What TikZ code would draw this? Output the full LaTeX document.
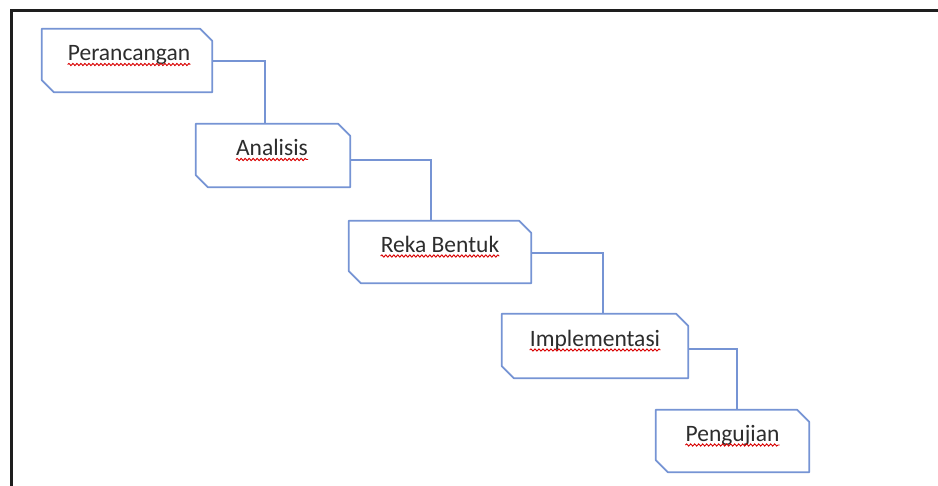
\documentclass[tikz,border=0pt]{standalone}
\usepackage{fontspec}
\setmainfont{Carlito}
\usetikzlibrary{decorations.pathmorphing}
\definecolor{boxblue}{RGB}{118,148,212}
\definecolor{txtgray}{RGB}{45,45,45}
\definecolor{frame}{RGB}{30,30,30}
\newlength\rekaw
\newlength\rekasw
\newcommand\chamfbox[1]{%
  \draw[boxline] (#1.north west) -- ([xshift=-12pt]#1.north east) -- ([yshift=-12pt]#1.north east)
    -- (#1.south east) -- ([xshift=12pt]#1.south west) -- ([yshift=12pt]#1.south west) -- cycle;}
\begin{document}
\begin{tikzpicture}[x=1pt,y=-1pt,
  boxline/.style={draw=boxblue,line width=1.8pt,line join=round},
  conn/.style={draw=boxblue,line width=1.8pt},
  boxarea/.style={rectangle,inner sep=0pt},
  label/.style={inner sep=0pt,anchor=base,text=txtgray,font=\fontsize{23.5}{28}\selectfont},
  wavy/.style={draw=red!85!black,line width=0.9pt,decorate,decoration={snake,amplitude=1.1pt,segment length=4pt}}]
\useasboundingbox (0,0) rectangle (938,486);
\fill[white] (0,0) rectangle (938,486);
% frame
\draw[frame,line width=3pt] (11,487) -- (11,10.5) -- (939,10.5);
% boxes
\node[boxarea,minimum width=170pt,minimum height=63pt] (b1) at (127,60.5) {};
\node[boxarea,minimum width=154pt,minimum height=63pt] (b2) at (273,155.5) {};
\node[boxarea,minimum width=182pt,minimum height=62pt] (b3) at (440,252) {};
\node[boxarea,minimum width=186pt,minimum height=64pt] (b4) at (595,346) {};
\node[boxarea,minimum width=153pt,minimum height=62pt] (b5) at (732.5,441) {};
\chamfbox{b1}\chamfbox{b2}\chamfbox{b3}\chamfbox{b4}\chamfbox{b5}
% labels
\node[label] (t1) at ([xshift=2pt,yshift=-0.5pt]b1.center) {Perancangan};
\node[label] (t2) at ([xshift=-1pt,yshift=-0.5pt]b2.center) {Analisis};
\node[label] (t3) at ([yshift=-0.5pt]b3.center) {Reka Bentuk};
\node[label] (t4) at ([yshift=-0.5pt]b4.center) {Implementasi};
\node[label] (t5) at ([yshift=-0.5pt]b5.center) {Pengujian};
% spell-check underlines
\settowidth{\rekaw}{\fontsize{23.5}{28}\selectfont Reka}
\settowidth{\rekasw}{\fontsize{23.5}{28}\selectfont Reka }
\draw[wavy] ([yshift=-3.5pt]t1.base west) -- ([yshift=-3.5pt]t1.base east);
\draw[wavy] ([yshift=-3.5pt]t2.base west) -- ([yshift=-3.5pt]t2.base east);
\draw[wavy] ([yshift=-3.5pt]t3.base west) -- ([yshift=-3.5pt,xshift=\rekaw]t3.base west);
\draw[wavy] ([yshift=-3.5pt,xshift=\rekasw]t3.base west) -- ([yshift=-3.5pt]t3.base east);
\draw[wavy] ([yshift=-3.5pt]t4.base west) -- ([yshift=-3.5pt]t4.base east);
\draw[wavy] ([yshift=-3.5pt]t5.base west) -- ([yshift=-3.5pt]t5.base east);
% connector bends
\coordinate (k1) at (265,61);
\coordinate (k2) at (431,160);
\coordinate (k3) at (603,253);
\coordinate (k4) at (737,349);
\draw[conn] (b1.east |- k1) -- (k1) -- (k1 |- b2.north);
\draw[conn] (b2.east |- k2) -- (k2) -- (k2 |- b3.north);
\draw[conn] (b3.east |- k3) -- (k3) -- (k3 |- b4.north);
\draw[conn] (b4.east |- k4) -- (k4) -- (k4 |- b5.north);
\end{tikzpicture}
\end{document}
